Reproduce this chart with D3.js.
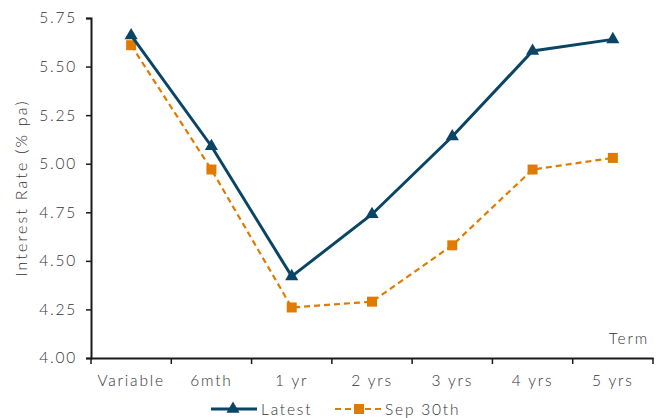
<!DOCTYPE html>
<html><head><meta charset="utf-8">
<script src="https://cdn.jsdelivr.net/npm/d3@7"></script>
<style>body{margin:0;background:#fff}svg{display:block}text{font-family:"Lato","Liberation Sans",sans-serif;font-weight:300;fill:#333;letter-spacing:1.8px}</style>
</head><body>
<script>
const categories = ["Variable","6mth","1 yr","2 yrs","3 yrs","4 yrs","5 yrs"];
const latest = [5.66,5.09,4.42,4.74,5.14,5.58,5.64];
const sep30 = [5.61,4.97,4.26,4.29,4.58,4.97,5.03];
const yTicks = [4.00,4.25,4.50,4.75,5.00,5.25,5.50,5.75];
const seriesNames = ["Latest","Sep 30th"];

const W=661,H=418;
const m={left:91,right:8,top:18,bottom:60};
const svg=d3.select("body").append("svg").attr("width",W).attr("height",H);
const x=d3.scaleBand().domain(categories).range([m.left,W-m.right]);
const y=d3.scaleLinear().domain([4,5.75]).range([H-m.bottom,m.top]);
const navy="#0B4566", orange="#E07B00";
const fs="15.5px";

// y axis
const ya=svg.append("g").attr("transform",`translate(${m.left},0)`)
  .call(d3.axisLeft(y).tickValues(yTicks).tickFormat(d3.format(".2f")).tickSize(5).tickPadding(9));
ya.select(".domain").attr("stroke","#1a1a1a").attr("stroke-width",2);
ya.selectAll(".tick line").attr("stroke","#1a1a1a").attr("stroke-width",1.5);
ya.selectAll("text").style("font-size",fs).attr("fill","#333");

// x axis
const xa=svg.append("g").attr("transform",`translate(0,${H-m.bottom})`)
  .call(d3.axisBottom(x).tickSize(0).tickPadding(17));
xa.select(".domain").attr("stroke","#1a1a1a").attr("stroke-width",2);
xa.selectAll("text").style("font-size",fs).attr("fill","#333");
const bounds=categories.map(c=>x(c)).concat([x.range()[1]]);
xa.selectAll(".bt").data(bounds).enter().append("line")
  .attr("x1",d=>d).attr("x2",d=>d).attr("y1",0).attr("y2",6).attr("stroke","#1a1a1a").attr("stroke-width",1.5);

svg.append("text").attr("x",649).attr("y",344).attr("text-anchor","end").style("font-size",fs).text("Term");
svg.append("text").attr("transform",`translate(27,${(m.top+H-m.bottom)/2}) rotate(-90)`)
  .attr("text-anchor","middle").style("font-size","16px").style("letter-spacing","2.2px").text("Interest Rate (% pa)");

const cx=c=>x(c)+x.bandwidth()/2;
const line=d3.line().x((d,i)=>cx(categories[i])).y(d=>y(d));

svg.append("path").datum(sep30).attr("d",line).attr("fill","none").attr("stroke",orange).attr("stroke-width",2.2).attr("stroke-dasharray","6,4");
svg.selectAll(".sq").data(sep30).enter().append("rect")
  .attr("x",(d,i)=>cx(categories[i])-5).attr("y",d=>y(d)-5).attr("width",10).attr("height",10).attr("fill",orange);

svg.append("path").datum(latest).attr("d",line).attr("fill","none").attr("stroke",navy).attr("stroke-width",3);
const tri=d3.symbol().type(d3.symbolTriangle).size(75);
svg.selectAll(".tr").data(latest).enter().append("path")
  .attr("d",tri).attr("transform",(d,i)=>`translate(${cx(categories[i])},${y(d)})`).attr("fill",navy);

// legend
const ly=409;
svg.append("line").attr("x1",211).attr("x2",257).attr("y1",ly).attr("y2",ly).attr("stroke",navy).attr("stroke-width",3);
svg.append("path").attr("d",tri).attr("transform",`translate(233,${ly})`).attr("fill",navy);
svg.append("text").attr("x",261).attr("y",ly+6).style("font-size",fs).text(seriesNames[0]);
svg.append("line").attr("x1",335).attr("x2",382).attr("y1",ly).attr("y2",ly).attr("stroke",orange).attr("stroke-width",2.2).attr("stroke-dasharray","6,4");
svg.append("rect").attr("x",354).attr("y",ly-5).attr("width",10).attr("height",10).attr("fill",orange);
svg.append("text").attr("x",385).attr("y",ly+6).style("font-size",fs).text(seriesNames[1]);
</script>
</body></html>
